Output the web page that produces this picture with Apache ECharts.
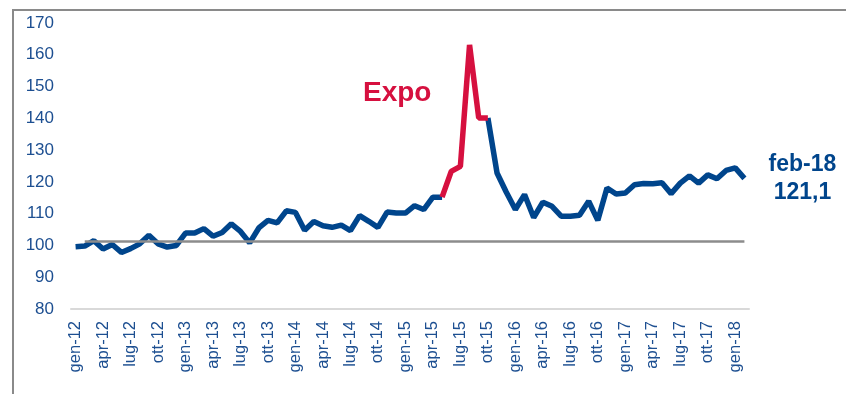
<!DOCTYPE html>
<html>
<head>
<meta charset="utf-8">
<script src="https://cdn.jsdelivr.net/npm/echarts@6/dist/echarts.min.js"></script>
<style>
  html, body { margin: 0; padding: 0; background: #fff; }
  #chart { width: 846px; height: 394px; }
</style>
</head>
<body>
<div id="chart"></div>
<script>
// mesi gen-12 .. feb-18
const mesi = ["gen", "feb", "mar", "apr", "mag", "giu", "lug", "ago", "set", "ott", "nov", "dic"];
const categorie = [];
for (let a = 12; a <= 18; a++) {
  for (let m = 0; m < 12; m++) {
    if (a === 18 && m > 1) break;
    categorie.push(mesi[m] + "-" + a);
  }
}

// indice
const indice = [
  99.6, 99.8, 101.5, 98.9, 100.3, 97.8, 99.0, 100.5, 103.2, 100.5, 99.5, 100.0,
  103.9, 103.9, 105.3, 102.9, 104.1, 106.8, 104.4, 100.8, 105.5, 107.9, 107.1, 110.9,
  110.4, 104.8, 107.5, 106.2, 105.7, 106.4, 104.7, 109.4, 107.6, 105.7, 110.5, 110.2,
  110.2, 112.5, 111.3, 115.2, 115.2, 123.3, 124.9, 163.1, 140.1, 140.1, 122.8, 116.8,
  111.3, 116.0, 108.8, 113.6, 112.3, 109.2, 109.2, 109.5, 113.9, 107.9, 118.1, 116.2,
  116.5, 119.1, 119.5, 119.4, 119.7, 116.3, 119.6, 121.9, 119.6, 122.2, 121.0, 123.6,
  124.4, 121.1
];

// periodo Expo (indici da apr-15 a ott-15)
const expoDa = 40;
const expoA = 45;
const rifValore = 101.2;

const serieBlu = indice.map((v, i) => (i > expoDa && i < expoA ? null : v));
const serieRossa = indice.map((v, i) => (i >= expoDa && i <= expoA ? v : null));

const BLU = "#00458c";
const ROSSO = "#d6103f";
const TESTO = "#1d4f91";
const FONT = "Liberation Sans, Arial, sans-serif";

const chart = echarts.init(document.getElementById("chart"));

chart.setOption({
  animation: false,
  textStyle: { fontFamily: FONT },
  grid: { left: 71, right: 97, top: 23, bottom: 85 },
  xAxis: {
    type: "category",
    data: categorie,
    boundaryGap: true,
    axisLine: { lineStyle: { color: "#d9d9d9", width: 2 } },
    axisTick: { show: false },
    axisLabel: {
      interval: 2,
      rotate: 90,
      margin: 12,
      color: TESTO,
      fontSize: 16.5,
      fontFamily: FONT,
    },
  },
  yAxis: {
    type: "value",
    min: 80,
    max: 170,
    interval: 10,
    axisLine: { show: false },
    axisTick: { show: false },
    splitLine: { show: false },
    axisLabel: { margin: 17, color: TESTO, fontSize: 17, fontFamily: FONT },
  },
  graphic: [
    {
      type: "rect",
      shape: { x: 13, y: 10, width: 900, height: 500 },
      style: { fill: "none", stroke: "#8a8a8a", lineWidth: 2 },
      silent: true,
    },
    {
      type: "text",
      left: 363,
      top: 79,
      style: { text: "Expo", fill: ROSSO, font: "bold 28px " + FONT },
    },
  ],
  series: [
    {
      name: "indice",
      type: "line",
      data: serieBlu,
      showSymbol: false,
      connectNulls: false,
      lineStyle: { color: BLU, width: 5.5 },
      itemStyle: { color: BLU },
      markLine: {
        silent: true,
        symbol: "none",
        label: { show: false },
        lineStyle: { color: "#8c8c8c", width: 2.5, type: "solid" },
        data: [[{ coord: [1, rifValore] }, { coord: [categorie.length - 1, rifValore] }]],
      },
      endLabel: {
        show: true,
        formatter: () => categorie[categorie.length - 1] + "\n" + String(indice[indice.length - 1]).replace(".", ","),
        color: BLU,
        fontWeight: "bold",
        fontSize: 23,
        fontFamily: FONT,
        lineHeight: 28,
        align: "center",
        offset: [50, 0],
      },
      z: 2,
    },
    {
      name: "Expo",
      type: "line",
      data: serieRossa,
      showSymbol: false,
      lineStyle: { color: ROSSO, width: 5.5 },
      itemStyle: { color: ROSSO },
      z: 3,
    },
  ],
});
</script>
</body>
</html>
